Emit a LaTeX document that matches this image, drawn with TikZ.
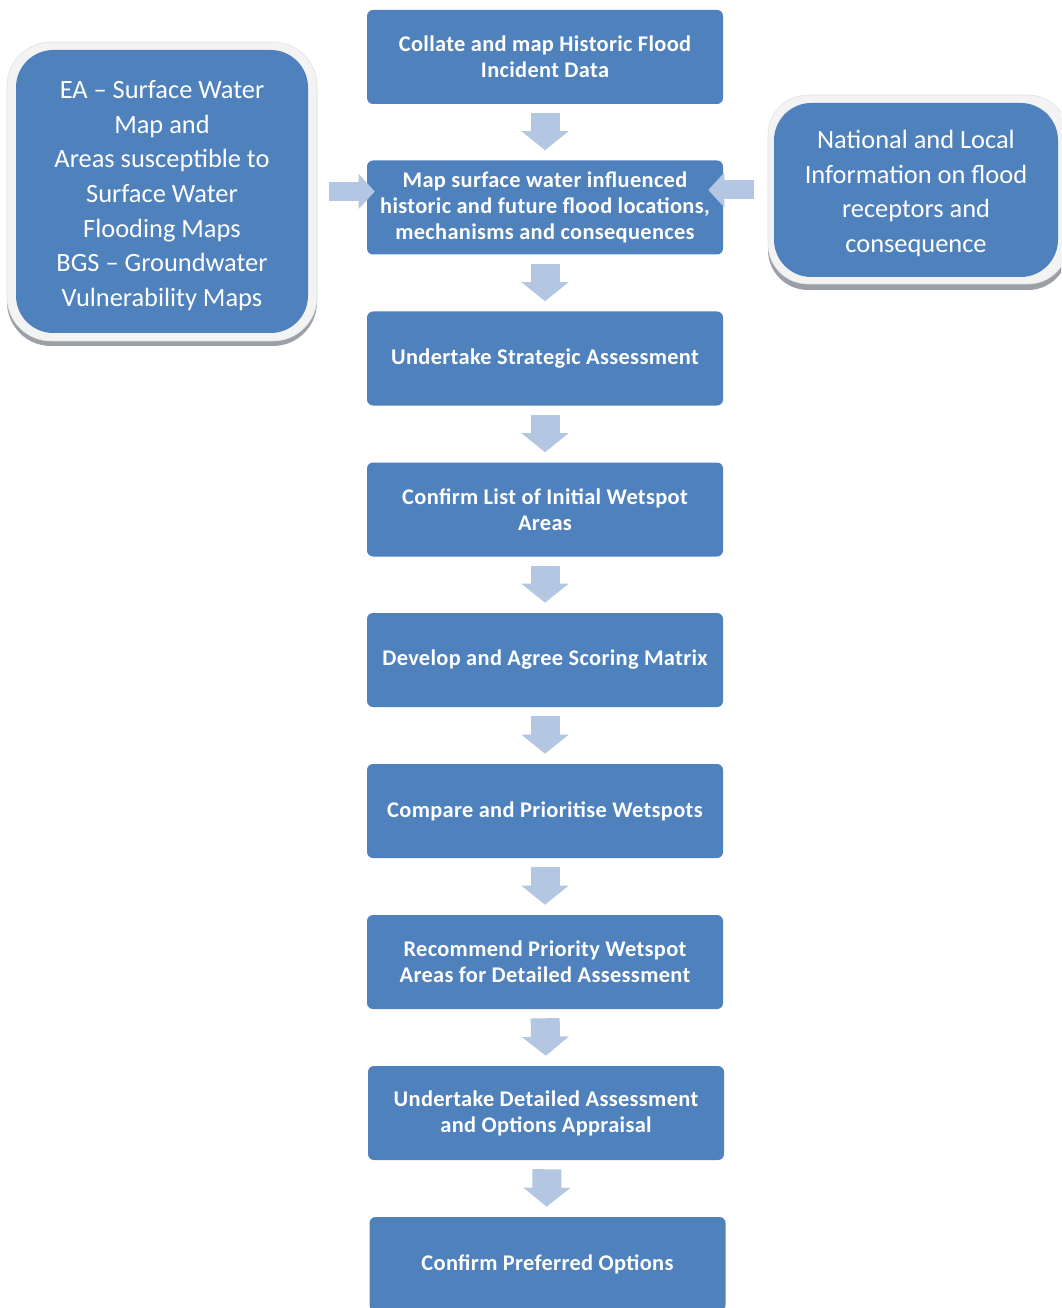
\documentclass[tikz,border=0pt]{standalone}
\usepackage{fontspec}
\setmainfont{Carlito}
\usetikzlibrary{arrows.meta}
\definecolor{boxblue}{HTML}{4F81BD}
\definecolor{arrowblue}{HTML}{B3C6E2}
\definecolor{bevel}{HTML}{F3F3F3}
\definecolor{shadowgray}{HTML}{9A9FA8}
\tikzset{
  stepbox/.style={fill=boxblue, rounded corners=4.5pt, inner sep=0pt,
    minimum width=267pt, minimum height=70.5pt, text=white, align=center,
    font=\fontsize{16.8pt}{19.5pt}\selectfont\bfseries\addfontfeature{LetterSpace=1.5}},
  sidebox/.style={fill=boxblue, rounded corners=28pt, inner sep=0pt},
  sidetext/.style={inner sep=0pt, text=white, align=center, font=\fontsize{19.8pt}{26pt}\selectfont},
  downarrow/.style={draw=arrowblue, line width=21.75pt, line cap=butt,
    -{Triangle[width=34.5pt,length=14.25pt]}, shorten <=6.75pt, shorten >=7.5pt},
  sidearrow/.style={draw=arrowblue, line width=14.25pt, line cap=butt,
    -{Triangle[width=25.5pt,length=12pt]}},
}
\begin{document}
\begin{tikzpicture}[x=0.75pt,y=-0.75pt]
\clip (0,0) rectangle (1061,1308);
\fill[white] (0,0) rectangle (1061,1308);
% bevel frames for side boxes
\fill[shadowgray, rounded corners=33pt] (7,47) rectangle (317,346);
\fill[bevel, draw=black!12, rounded corners=33pt] (7,42) rectangle (317,341);
\fill[shadowgray, rounded corners=30pt] (768,100) rectangle (1068,290);
\fill[bevel, draw=black!12, rounded corners=30pt] (768,95) rectangle (1068,284);
% side boxes
\node[sidebox, minimum width=219pt, minimum height=212.25pt] (L) at (162,191.5) {};
\node[sidetext] (Lt) at (162,195.5)
  {EA -- Surface Water\\Map and\\Areas susceptible to\\Surface Water\\Flooding Maps\\BGS -- Groundwater\\Vulnerability Maps};
\node[sidebox, minimum width=213pt, minimum height=130.5pt] (R) at (916,190) {};
\node[sidetext] (Rt) at (916,193.5)
  {National and Local\\Information on flood\\receptors and\\consequence};
% step boxes
\node[stepbox] (b1) at (545,57) {Collate and map Historic Flood\\Incident Data};
\node[stepbox] (b2) at (545,207.5) {Map surface water influenced\\historic and future flood locations,\\mechanisms and consequences};
\node[stepbox] (b3) at (545,358.5) {Undertake Strategic Assessment};
\node[stepbox] (b4) at (545,509.5) {Confirm List of Initial Wetspot\\Areas};
\node[stepbox] (b5) at (545,660) {Develop and Agree Scoring Matrix};
\node[stepbox] (b6) at (545,811) {Compare and Prioritise Wetspots};
\node[stepbox] (b7) at (545,962) {Recommend Priority Wetspot\\Areas for Detailed Assessment};
\node[stepbox] (b8) at (546,1113) {Undertake Detailed Assessment\\and Options Appraisal};
\node[stepbox] (b9) at (547.5,1264) {Confirm Preferred Options};
% down arrows
\draw[downarrow] (b1.south) -- (b2.north);
\draw[downarrow] (b2.south) -- (b3.north);
\draw[downarrow] (b3.south) -- (b4.north);
\draw[downarrow] (b4.south) -- (b5.north);
\draw[downarrow] (b5.south) -- (b6.north);
\draw[downarrow] (b6.south) -- (b7.north);
\draw[downarrow] (b7.south) -- (b8.north);
\draw[downarrow] ([xshift=0.75pt]b8.south) -- ([xshift=-0.75pt]b9.north);
% side arrows
\draw[sidearrow] ([xshift=15.75pt]L.east) -- ([xshift=6pt]b2.west |- L.east);
\draw[sidearrow] ([xshift=-15pt]R.west) -- ([xshift=-11.25pt]b2.east |- R.west);
\end{tikzpicture}
\end{document}
